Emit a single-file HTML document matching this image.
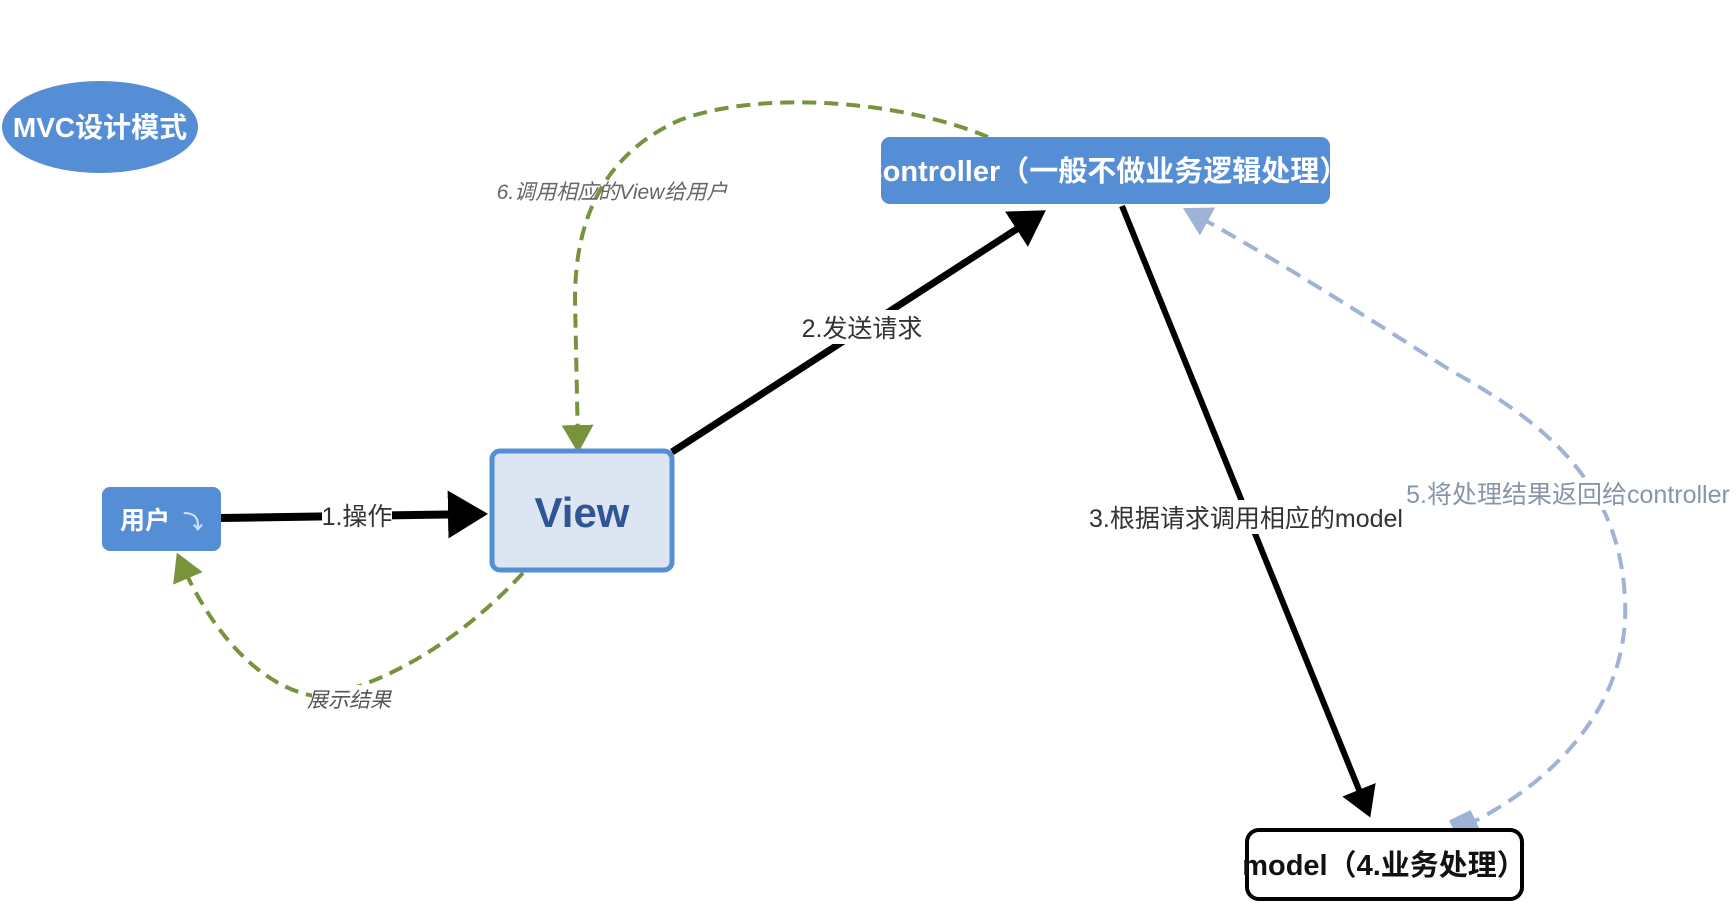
<!DOCTYPE html>
<html><head><meta charset="utf-8"><style>
html,body{margin:0;padding:0;background:#fff;width:1736px;height:921px;overflow:hidden}
svg text{font-family:"Liberation Sans","Noto Sans CJK SC",sans-serif}
</style></head><body>
<svg width="1736" height="921" viewBox="0 0 1736 921" xmlns="http://www.w3.org/2000/svg">
<defs>
<marker id="ab" markerWidth="6" markerHeight="6" refX="4" refY="3" orient="auto" markerUnits="strokeWidth"><path d="M0,0 L5,3 L0,6 z" fill="#000"/></marker>
<marker id="ag" markerWidth="8" markerHeight="8" refX="5" refY="4" orient="auto" markerUnits="strokeWidth"><path d="M0,0 L7,4 L0,8 z" fill="#77933c"/></marker>
<marker id="sq" markerWidth="6" markerHeight="6" refX="3" refY="3" orient="auto" markerUnits="strokeWidth"><rect x="0" y="0" width="6" height="6" fill="#9fb3d6"/></marker>
<marker id="abl" markerWidth="8" markerHeight="8" refX="5" refY="4" orient="auto" markerUnits="strokeWidth"><path d="M0,0 L7,4 L0,8 z" fill="#9fb3d6"/></marker>
</defs>

<!-- MVC ellipse -->
<ellipse cx="100" cy="127" rx="98" ry="46" fill="#568ed6"/>
<text x="100" y="137" font-size="28" font-weight="bold" fill="#fff" text-anchor="middle">MVC设计模式</text>

<!-- green dashed 6 -->
<path d="M988,137 C900,100 760,90 680,120 C590,160 575,240 575,300 L578,445" fill="none" stroke="#77933c" stroke-width="4" stroke-dasharray="14,8" marker-end="url(#ag)"/>
<text x="612" y="199" font-size="21" font-style="italic" fill="#666" text-anchor="middle">6.调用相应的View给用户</text>

<!-- green dashed 展示结果 -->
<path d="M523,573 C470,630 400,680 321,697 C260,690 210,630 180,560" fill="none" stroke="#77933c" stroke-width="4" stroke-dasharray="14,8" marker-end="url(#ag)"/>
<rect x="312" y="685" width="75" height="26" fill="#fff"/>
<text x="349" y="707" font-size="21" font-style="italic" fill="#555" text-anchor="middle">展示结果</text>

<!-- blue dashed 5 -->
<path d="M1465,826 C1560,780 1630,700 1625,600 C1620,480 1540,420 1450,370 C1340,300 1260,250 1190,212" fill="none" stroke="#9fb3d6" stroke-width="4" stroke-dasharray="16,9" marker-end="url(#abl)" marker-start="url(#sq)"/>
<rect x="1415" y="478" width="310" height="32" fill="#fff"/>
<text x="1568" y="503" font-size="25" fill="#8895a8" text-anchor="middle">5.将处理结果返回给controller</text>

<!-- arrows -->
<line x1="221" y1="518" x2="480" y2="514" stroke="#000" stroke-width="8" marker-end="url(#ab)"/>
<rect x="322" y="500" width="70" height="32" fill="#fff"/>
<text x="357" y="525" font-size="25" fill="#333" text-anchor="middle">1.操作</text>

<line x1="672" y1="452" x2="1040" y2="214" stroke="#000" stroke-width="7" marker-end="url(#ab)"/>
<rect x="805" y="310" width="115" height="34" fill="#fff"/>
<text x="862" y="337" font-size="25" fill="#333" text-anchor="middle">2.发送请求</text>

<line x1="1122" y1="206" x2="1368" y2="812" stroke="#000" stroke-width="6" marker-end="url(#ab)"/>
<rect x="1095" y="500" width="302" height="34" fill="#fff"/>
<text x="1246" y="527" font-size="25" fill="#333" text-anchor="middle">3.根据请求调用相应的model</text>

<!-- Controller -->
<rect x="881" y="137" width="449" height="67" rx="9" fill="#568ed6"/>
<text x="1105" y="181" font-size="29" font-weight="bold" fill="#fff" text-anchor="middle">Controller（一般不做业务逻辑处理）</text>

<!-- 用户 -->
<rect x="102" y="487" width="119" height="64" rx="8" fill="#568ed6"/>
<text x="145" y="529" font-size="25" font-weight="bold" fill="#fff" text-anchor="middle">用户</text>
<text x="193" y="529" font-size="20" font-weight="bold" fill="#cfe0f5" text-anchor="middle">⤵</text>

<!-- View -->
<rect x="492" y="451" width="180" height="119" rx="8" fill="#dce6f2" stroke="#568ed6" stroke-width="5"/>
<text x="582" y="527" font-size="42" font-weight="bold" fill="#2f5597" text-anchor="middle">View</text>

<!-- model -->
<rect x="1247" y="830" width="275" height="69" rx="12" fill="#fff" stroke="#000" stroke-width="4"/>
<text x="1384" y="875" font-size="29" font-weight="bold" fill="#111" text-anchor="middle">model（4.业务处理）</text>
</svg>
</body></html>
